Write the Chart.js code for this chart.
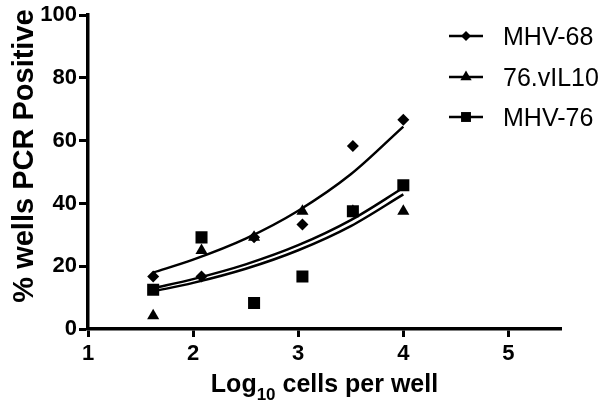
<!DOCTYPE html>
<html>
<head>
<meta charset="utf-8">
<script src="https://cdn.jsdelivr.net/npm/chart.js@4.4.0/dist/chart.umd.min.js"></script>
<style>
  body { margin: 0; background: #fff; }
</style>
</head>
<body>
<canvas id="pcrChart" width="600" height="410"></canvas>
<script>
'use strict'

//++++++++++++++ Data ++++++++++++++//
let seriesNames = ['MHV-68', '76.vIL10', 'MHV-76'];
let logCells = [1.62, 2.08, 2.58, 3.04, 3.52, 4.0];
let mhv68Values = [16.7, 16.7, 29.2, 33.3, 58.3, 66.7];
let vil10Values = [4.2, 25.0, 29.2, 37.5, 37.5, 37.5];
let mhv76Values = [12.5, 29.2, 8.3, 16.7, 37.5, 45.8];

// fitted curves
let fitX = [1.62, 2.0, 2.5, 3.0, 3.5, 4.0];
let mhv68Fit = [18.0, 22.1, 28.8, 37.7, 49.3, 64.5];
let mhv76Fit = [13.0, 15.9, 20.6, 26.7, 34.7, 45.0];
let vil10Fit = [12.0, 14.7, 19.2, 25.1, 32.8, 42.9];

let xTicks = [1, 2, 3, 4, 5];
let yTicks = [0, 20, 40, 60, 80, 100];

//++++++++++++++ Helpers ++++++++++++++//
const FONT = '"Liberation Sans", Arial, Helvetica, sans-serif';

function toPoints(xs, ys) {
  return xs.map((x, i) => ({ x: x, y: ys[i] }));
}

function pointSet(label, values, style, radius) {
  return {
    label: label,
    data: toPoints(logCells, values),
    showLine: false,
    pointStyle: style,
    pointRadius: radius,
    backgroundColor: '#000',
    borderColor: '#000',
    borderWidth: 0
  };
}

function curveSet(label, values) {
  return {
    label: label + ' fit',
    data: toPoints(fitX, values),
    showLine: true,
    pointRadius: 0,
    borderColor: '#000',
    borderWidth: 2.5,
    cubicInterpolationMode: 'monotone',
    fill: false
  };
}

//++++++++++++++ Legend + axis titles plugin ++++++++++++++//
let legendStyles = [
  { style: 'rectRot', radius: 5 },
  { style: 'triangle', radius: 6.5 },
  { style: 'rect', radius: 7 }
];
let legendRowY = [36, 77, 117];

const extrasPlugin = {
  id: 'extras',
  afterDraw(chart) {
    const ctx = chart.ctx;
    const area = chart.chartArea;
    ctx.save();
    ctx.fillStyle = '#000';
    ctx.strokeStyle = '#000';

    // legend
    seriesNames.forEach((name, i) => {
      let y = legendRowY[i];
      ctx.lineWidth = 2.5;
      ctx.beginPath();
      ctx.moveTo(449, y);
      ctx.lineTo(483, y);
      ctx.stroke();
      Chart.helpers.drawPoint(ctx, {
        pointStyle: legendStyles[i].style,
        radius: legendStyles[i].radius,
        rotation: 0,
        borderWidth: 0
      }, 466, y);
      ctx.font = '25px ' + FONT;
      ctx.textAlign = 'left';
      ctx.textBaseline = 'alphabetic';
      ctx.fillText(name, 503, y + 9);
    });

    // x title with subscript
    let mainFont = 'bold 25px ' + FONT;
    let subFont = 'bold 17px ' + FONT;
    let partA = 'Log';
    let partSub = '10';
    let partB = ' cells per well';
    ctx.font = mainFont;
    let wA = ctx.measureText(partA).width;
    let wB = ctx.measureText(partB).width;
    ctx.font = subFont;
    let wSub = ctx.measureText(partSub).width;
    let total = wA + wSub + wB;
    let startX = (area.left + area.right) / 2 - total / 2;
    let baseY = 392;
    ctx.textAlign = 'left';
    ctx.textBaseline = 'alphabetic';
    ctx.font = mainFont;
    ctx.fillText(partA, startX, baseY);
    ctx.font = subFont;
    ctx.fillText(partSub, startX + wA, baseY + 8);
    ctx.font = mainFont;
    ctx.fillText(partB, startX + wA + wSub, baseY);

    // y title
    ctx.translate(33, 156);
    ctx.rotate(-Math.PI / 2);
    ctx.font = 'bold 29px ' + FONT;
    ctx.textAlign = 'center';
    ctx.fillText('% wells PCR Positive', 0, 0);
    ctx.restore();
  }
};

//++++++++++++++ Chart ++++++++++++++//
const ctx = document.getElementById('pcrChart').getContext('2d');
const pcrChart = new Chart(ctx, {
  type: 'scatter',
  data: {
    datasets: [
      pointSet(seriesNames[0], mhv68Values, 'rectRot', 6),
      pointSet(seriesNames[1], vil10Values, 'triangle', 7),
      pointSet(seriesNames[2], mhv76Values, 'rect', 8.5),
      curveSet(seriesNames[0], mhv68Fit),
      curveSet(seriesNames[1], vil10Fit),
      curveSet(seriesNames[2], mhv76Fit)
    ]
  },
  options: {
    responsive: false,
    animation: false,
    layout: { padding: { top: 14, right: 39, left: 0, bottom: 0 } },
    plugins: {
      legend: { display: false },
      tooltip: { enabled: false }
    },
    scales: {
      x: {
        type: 'linear',
        min: 1,
        max: 5.5,
        afterBuildTicks: scale => { scale.ticks = xTicks.map(v => ({ value: v })); },
        afterFit: scale => { scale.height = 81; },
        ticks: {
          color: '#000',
          padding: 4,
          font: { family: FONT, size: 22, weight: 'bold' }
        },
        grid: {
          drawOnChartArea: false,
          color: '#000',
          tickLength: 8,
          tickWidth: 3
        },
        border: { display: true, color: '#000', width: 3.5 }
      },
      y: {
        min: 0,
        max: 100,
        afterBuildTicks: scale => { scale.ticks = yTicks.map(v => ({ value: v })); },
        afterFit: scale => { scale.width = 88; },
        ticks: {
          color: '#000',
          padding: 2,
          font: { family: FONT, size: 22, weight: 'bold' }
        },
        grid: {
          drawOnChartArea: false,
          color: '#000',
          tickLength: 9,
          tickWidth: 3
        },
        border: { display: true, color: '#000', width: 3.5 }
      }
    }
  },
  plugins: [extrasPlugin]
});
</script>
</body>
</html>
